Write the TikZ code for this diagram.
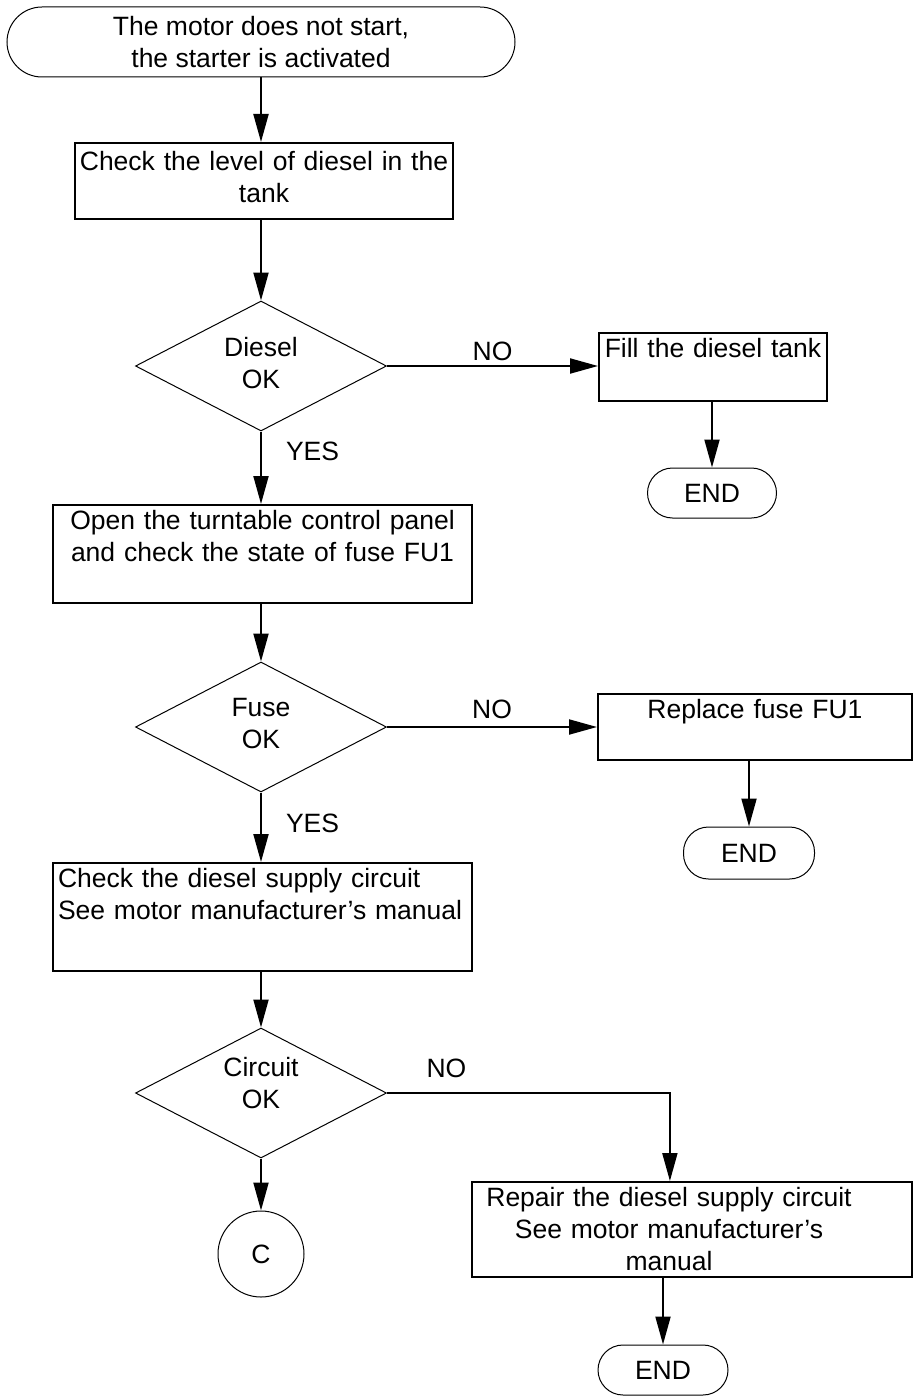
\documentclass[tikz,border=0pt]{standalone}
\usepackage{fontspec}
\setmainfont{Liberation Sans}
\usetikzlibrary{arrows.meta,positioning,calc,shapes.geometric}
\newcommand{\repline}[1]{\makebox[386pt]{#1}}
\begin{document}
\begin{tikzpicture}[x=1pt,y=-1pt,
  font=\fontsize{26.5}{32}\selectfont,
  term/.style={draw,line width=1pt,rounded corners=#1,inner sep=2pt,align=center},
  term/.default=25pt,
  proc/.style={draw,line width=2pt,anchor=north west,inner xsep=4pt,inner ysep=4pt,text height=20pt,align=center},
  dec/.style={diamond,draw,line width=1pt,minimum width=251pt,minimum height=130pt,inner sep=0pt,align=center,text depth=0pt},
  conn/.style={circle,draw,line width=1pt,minimum size=86pt,inner sep=0pt},
  lab/.style={inner sep=2pt},
  arr/.style={-{Triangle[length=28pt,width=15pt]},line width=2pt}]
  \fill[white] (0,0) rectangle (913,1399);
  \useasboundingbox (0,0) rectangle (913,1399);
  \node[term=35pt,minimum width=508pt,minimum height=70pt] (start) at (261,42) {The motor does not start,\\the starter is activated};
  \node[proc,text width=370pt,inner ysep=8pt,text depth=40pt] (chk1) at (74,142) {Check the level of diesel in the\\tank};
  \node[dec,text height=45pt] (d1) at (261,366) {Diesel\\OK};
  \node[proc,text width=220pt,text depth=40pt] (fill) at (598,332) {Fill the diesel tank};
  \node[term,minimum width=129pt,minimum height=50pt] (end1) at (712,493) {END};
  \node[proc,text width=411pt,text depth=70pt] (chk2) at (52,504) {Open the turntable control panel\\and check the state of fuse FU1};
  \node[dec,text height=43pt] (d2) at (261,727) {Fuse\\OK};
  \node[proc,text width=306pt,text depth=38pt] (rep1) at (597,693) {Replace fuse FU1};
  \node[term,minimum width=131pt,minimum height=52pt] (end2) at (749,853) {END};
  \node[proc,text width=409pt,text depth=80pt,inner xsep=5pt,align=left] (chk3) at (52,862) {Check the diesel supply circuit\\\mbox{See motor manufacturer’s manual}};
  \node[dec,text height=31pt] (d3) at (261,1093) {Circuit\\OK};
  \node[conn] (c) at (261,1254) {C};
  \node[proc,text width=432pt,text depth=67pt,align=left] (rep2) at (471,1181) {\repline{Repair the diesel supply circuit}\\\repline{See motor manufacturer’s}\\\repline{manual}};
  \node[term,minimum width=130pt,minimum height=50pt] (end3) at (663,1370) {END};
  \draw[arr] (start.south) -- (start.south |- chk1.north);
  \draw[arr] (chk1.south -| d1.north) -- (d1.north);
  \draw[arr] (d1.east) -- (d1.east -| fill.west) node[lab,midway,above=2pt] {NO};
  \draw[arr] (end1.north |- fill.south) -- (end1.north);
  \draw[arr] (d1.south) -- (d1.south |- chk2.north) node[lab,pos=0.27,right=22pt] {YES};
  \draw[arr] (chk2.south -| d2.north) -- (d2.north);
  \draw[arr] (d2.east) -- (d2.east -| rep1.west) node[lab,midway,above=5pt] {NO};
  \draw[arr] (end2.north |- rep1.south) -- (end2.north);
  \draw[arr] (d2.south) -- (d2.south |- chk3.north) node[lab,pos=0.44,right=22pt] {YES};
  \draw[arr] (chk3.south -| d3.north) -- (d3.north);
  \draw[arr] (d3.east) -| ($(rep2.north west)!0.45!(rep2.north east)$) node[lab,pos=0.105,above=12pt] {NO};
  \draw[arr] (end3.north |- rep2.south) -- (end3.north);
  \draw[arr] (d3.south) -- (c.north);
\end{tikzpicture}
\end{document}
